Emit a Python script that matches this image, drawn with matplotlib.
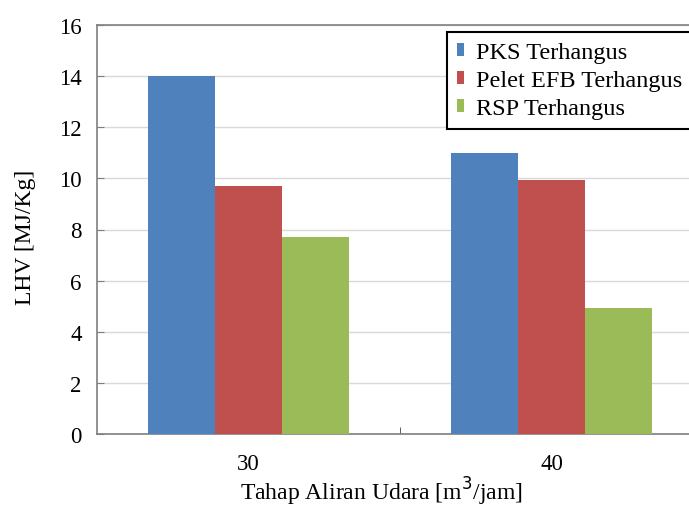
import numpy as np
from matplotlib import pyplot as plt

categories = ["30", "40"]
series = ["PKS Terhangus", "Pelet EFB Terhangus", "RSP Terhangus"]
pks = [14.0, 11.0]
pelet = [9.7, 9.95]
rsp = [7.7, 4.93]
colours = ["#4F81BD", "#C0504D", "#9BBB59"]

plt.rcParams["font.family"] = ["Liberation Serif", "DejaVu Serif"]

fig = plt.figure(figsize=(6.89, 5.10), dpi=100)
ax = fig.add_axes([97/689, 75/510, 606/689, 409/510])

x = np.arange(len(categories))
w = 0.222
for i, (vals, c, name) in enumerate(zip([pks, pelet, rsp], colours, series)):
    ax.bar(x + (i - 1)*w, vals, w, color=c, label=name, zorder=3)

ax.set_xlim(-0.5, 1.5)
ax.set_ylim(0, 16)
ax.set_yticks(np.arange(0, 17, 2))
ax.set_xticks(x)
ax.set_xticklabels(categories)
ax.set_xticks([0.5], minor=True)
ax.grid(True, axis="y", color="#D9D9D9", lw=1, zorder=0)
for s in ax.spines.values():
    s.set_color("#7F7F7F")
    s.set_linewidth(1.2)
ax.tick_params(axis="y", direction="in", length=5, color="#7F7F7F", labelsize=16.5, pad=11)
ax.tick_params(axis="x", which="major", length=0, labelsize=16.5, pad=14)
ax.tick_params(axis="x", which="minor", direction="in", length=5, color="#404040")

fig.text(26/689, 1 - 237/510, "LHV [MJ/Kg]", rotation=90, ha="center", va="center", fontsize=17)
fig.text(381/689, 1 - 492/510, "Tahap Aliran Udara [m$^3$/jam]", ha="center", va="center", fontsize=17)

leg = ax.legend(loc="upper left", bbox_to_anchor=(447/689, 1 - 33/510), bbox_transform=fig.transFigure,
                fancybox=False, edgecolor="black", framealpha=1, fontsize=17.5,
                handlelength=0.3, handleheight=0.45, handletextpad=0.5, labelspacing=0.3,
                borderpad=0.4, borderaxespad=0)
leg.get_frame().set_linewidth(1.5)

plt.savefig("out.png", dpi=100)
